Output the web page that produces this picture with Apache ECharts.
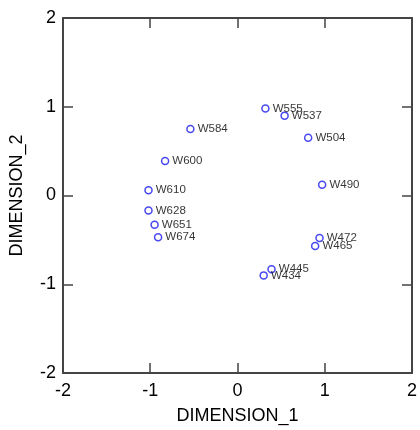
<!DOCTYPE html>
<html><head><meta charset="utf-8">
<script src="https://cdn.jsdelivr.net/npm/echarts@6/dist/echarts.min.js"></script>
<style>html,body{margin:0;padding:0;background:#fff}#c{width:420px;height:430px}</style>
</head><body><div id="c"></div>
<script>
const names = ['W555','W537','W504','W490','W584','W600','W610','W628','W651','W674','W472','W465','W445','W434'];
const dim1 = [0.32,0.54,0.81,0.97,-0.54,-0.83,-1.02,-1.02,-0.95,-0.91,0.94,0.89,0.39,0.30];
const dim2 = [0.98,0.90,0.65,0.12,0.75,0.39,0.06,-0.17,-0.33,-0.47,-0.48,-0.57,-0.83,-0.90];
const ticks = [-2,-1,0,1,2];

const data = names.map((n,i)=>({name:n, value:[dim1[i], dim2[i]]}));
const lineStyle = {color:'#444', width:2};
const font = 'Liberation Sans, Arial, sans-serif';
const base = {min:ticks[0], max:ticks[ticks.length-1], interval:1, splitLine:{show:false},
  axisLine:{show:true, onZero:false, lineStyle},
  axisTick:{show:true, inside:true, length:10, lineStyle:{color:'#444', width:1.5}}};
const chart = echarts.init(document.getElementById('c'));
chart.setOption({
  animation:false,
  grid:{left:57, right:7, top:18, bottom:57},
  xAxis:[
    Object.assign({}, base, {type:'value', position:'bottom', name:'DIMENSION_1', nameLocation:'middle', nameGap:34,
      nameTextStyle:{fontSize:18, color:'#000', fontFamily:font},
      axisLabel:{fontSize:18, color:'#000', fontFamily:font, margin:9}}),
    Object.assign({}, base, {type:'value', position:'top', axisLabel:{show:false}})
  ],
  yAxis:[
    Object.assign({}, base, {type:'value', position:'left', name:'DIMENSION_2', nameLocation:'middle', nameGap:37,
      nameTextStyle:{fontSize:18, color:'#000', fontFamily:font},
      axisLabel:{fontSize:18, color:'#000', fontFamily:font, margin:7}}),
    Object.assign({}, base, {type:'value', position:'right', axisLabel:{show:false}})
  ],
  series:[{
    type:'scatter', xAxisIndex:0, yAxisIndex:0, data,
    symbol:'circle', symbolSize:7,
    itemStyle:{color:'#fff', borderColor:'#1a1aee', borderWidth:1.5},
    label:{show:true, position:'right', distance:3, formatter:p=>p.name, fontSize:11.5, color:'#000', fontFamily:font}
  }]
});
</script></body></html>
